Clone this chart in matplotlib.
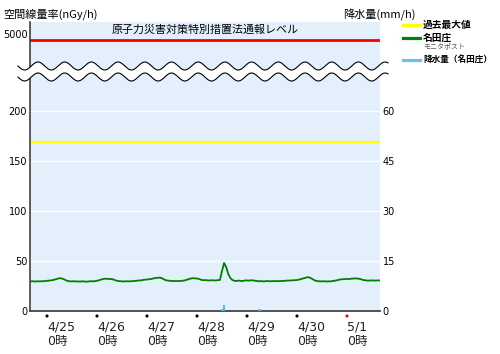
import numpy as np
import matplotlib
matplotlib.use('Agg')
import matplotlib.pyplot as plt
from matplotlib.patches import Polygon
from matplotlib.lines import Line2D

plt.rcParams['font.family'] = ['Noto Sans CJK JP', 'DejaVu Sans']

# ---------------- data ----------------
# hours since 4/25 0:00 (hourly values, 4/24 16時 .. 5/1 16時)
hours = np.arange(-8, 161)
dose = [
    29.6, 29.8, 29.5, 29.7, 29.6, 29.8, 29.7, 30.0,
    # 4/25
    30.2, 30.4, 30.6, 31.0, 31.6, 32.2, 32.8, 32.6, 31.8, 30.8, 30.0, 29.7,
    29.6, 29.8, 29.5, 29.6, 29.4, 29.7, 29.5, 29.3, 29.6, 29.8, 29.6, 29.9,
    # 4/26
    30.2, 30.8, 31.5, 32.0, 32.3, 32.2, 32.0, 31.9, 31.4, 30.6, 30.0, 29.8,
    29.7, 29.5, 29.8, 29.6, 29.7, 29.8, 30.0, 30.3, 30.5, 30.6, 31.0, 31.3,
    # 4/27
    31.5, 31.7, 32.0, 32.5, 33.0, 33.2, 33.4, 33.0, 31.8, 30.8, 30.4, 30.2,
    30.0, 30.0, 30.1, 29.9, 30.0, 30.2, 30.5, 31.2, 32.0, 32.5, 32.8, 32.7,
    # 4/28
    32.5, 32.0, 31.2, 30.8, 30.9, 30.7, 30.5, 30.8, 30.6, 30.5, 30.9, 31.0,
    40.0, 48.0, 44.0, 37.0, 33.0, 31.0, 30.2, 30.0, 30.4, 30.1, 30.0, 30.5,
    # 4/29
    30.6, 30.4, 30.8, 30.5, 30.2, 29.8, 29.7, 29.9, 29.6, 29.8, 30.0, 29.7,
    29.9, 29.8, 30.0, 29.8, 30.1, 29.9, 30.2, 30.3, 30.5, 30.4, 30.6, 30.8,
    # 4/30
    31.0, 31.4, 32.0, 32.6, 33.2, 33.8, 33.5, 32.5, 31.2, 30.2, 29.8, 29.7,
    29.6, 29.8, 29.5, 29.7, 29.6, 29.9, 30.2, 30.6, 31.2, 31.6, 31.8, 32.0,
    # 5/1
    32.1, 32.0, 32.3, 32.5, 32.6, 32.4, 32.2, 31.5, 30.9, 30.6, 30.4, 30.5,
    30.6, 30.4, 30.5, 30.6, 30.5,
]
rain_hours = [84, 85, 102]
rain = [0.6, 1.8, 0.5]
max_level = 169          # 過去最大値
notify_level = 5000      # 原子力災害対策特別措置法通報レベル
day_hours = [0, 24, 48, 72, 96, 120, 144]
day_labels = ['4/25\n0時', '4/26\n0時', '4/27\n0時', '4/28\n0時',
              '4/29\n0時', '4/30\n0時', '5/1\n0時']
dot_colors = ['black'] * 6 + ['red']
left_ticks = [0, 50, 100, 150, 200]
right_ticks = [0, 15, 30, 45, 60]

# ---------------- layout ----------------
W, H = 500, 354
fig = plt.figure(figsize=(W / 100, H / 100), dpi=100)


def rect(x0, y0, x1, y1):
    return [x0 / W, 1 - y1 / H, (x1 - x0) / W, (y1 - y0) / H]


bg = '#E3F0FB'
XL = (-8.16, 159.84)

ax = fig.add_axes(rect(30, 72, 380, 311))
axt = fig.add_axes(rect(30, 22, 380, 72))

# bottom (main) axes
ax.set_facecolor(bg)
ax.set_xlim(*XL)
ax.set_ylim(0, 239)
ax.set_yticks(left_ticks)
ax.yaxis.grid(True, color='white', lw=1.0)
ax.set_axisbelow(True)
ax.tick_params(axis='y', length=0, pad=2, labelsize=7)
ax.set_xticks(day_hours, day_labels)
ax.tick_params(axis='x', length=0, pad=6.5, labelsize=9)
for lab in ax.get_xticklabels():
    lab.set_horizontalalignment('left')
    lab.set_family(['DejaVu Sans', 'Noto Sans CJK JP'])
    lab.set_color('#222222')
for lab in ax.get_yticklabels():
    lab.set_family(['DejaVu Sans'])
for s in ['top', 'right']:
    ax.spines[s].set_visible(False)
ax.spines['left'].set_color('#333333')
ax.spines['left'].set_linewidth(1.1)
ax.spines['bottom'].set_color('#444444')
ax.spines['bottom'].set_linewidth(1.3)

ax.axhline(max_level, color='#FFFF00', lw=1.6, zorder=2)
ax.plot(hours, dose, color='#008000', lw=1.3, zorder=3)
ax.scatter(day_hours, [-5] * len(day_hours), c=dot_colors, s=5,
           clip_on=False, zorder=5, linewidths=0)

# rain on right axis
ax2 = ax.twinx()
ax2.set_ylim(0, 239 * 0.3)
ax2.set_xlim(*XL)
ax2.bar(rain_hours, rain, width=1.0, color='#5BB8F0', zorder=4)
ax2.set_yticks(right_ticks)
ax2.tick_params(axis='y', length=0, pad=2, labelsize=7)
for lab in ax2.get_yticklabels():
    lab.set_family(['DejaVu Sans'])
for s in ax2.spines.values():
    s.set_visible(False)

# top axes (notification level)
axt.set_facecolor(bg)
axt.set_xlim(*XL)
axt.set_ylim(4680, 5180)
axt.set_xticks([])
axt.set_yticks([])
for s in ['top', 'right', 'bottom']:
    axt.spines[s].set_visible(False)
axt.spines['left'].set_color('#333333')
axt.spines['left'].set_linewidth(1.1)
axt.axhline(notify_level, color='#FF0000', lw=2.0)
axt.text(-2 / 350, notify_level + 50, '5000', transform=axt.get_yaxis_transform(),
         ha='right', va='center', fontsize=7, family=['DejaVu Sans'])
axt.text(0.5, (72 - 30) / 50, '原子力災害対策特別措置法通報レベル',
         transform=axt.transAxes, ha='center', va='center', fontsize=7.9)

# wavy axis break band
xs = np.linspace(18, 388, 400)
P, A = 26.7, 4.0
yu = 66 - A * np.cos(2 * np.pi * (xs - 38) / P)
yl = 77 - A * np.cos(2 * np.pi * (xs - 38) / P)
fx = xs / W
poly = np.column_stack([np.concatenate([fx, fx[::-1]]),
                        np.concatenate([1 - yu / H, (1 - yl / H)[::-1]])])
fig.add_artist(Polygon(poly, closed=True, facecolor='white', edgecolor='none',
                       transform=fig.transFigure, zorder=10))
fig.add_artist(Line2D(fx, 1 - yu / H, color='black', lw=0.8,
                      transform=fig.transFigure, zorder=11))
fig.add_artist(Line2D(fx, 1 - yl / H, color='black', lw=0.8,
                      transform=fig.transFigure, zorder=11))

# axis titles
fig.text(3 / W, 1 - 14 / H, '空間線量率(nGy/h)', ha='left', va='center', fontsize=8)
fig.text(343 / W, 1 - 14 / H, '降水量(mm/h)', ha='left', va='center', fontsize=8)

# legend
leg = [('#FFFF00', 25, '過去最大値', 7, 'bold', '#000000'),
       ('#008000', 38, '名田庄', 7, 'bold', '#000000'),
       ('#66C0F0', 60, '降水量（名田庄）', 6.2, 'bold', '#000000')]
for col, y, txt, fs, fw, tc in leg:
    fig.add_artist(Line2D([403 / W, 420 / W], [1 - y / H, 1 - y / H], color=col,
                          lw=2.3, transform=fig.transFigure))
    fig.text(423 / W, 1 - y / H, txt, ha='left', va='center', fontsize=fs,
             fontweight=fw, color=tc)
fig.text(423 / W, 1 - 46 / H, 'モニタポスト', ha='left', va='center', fontsize=5,
         color='#555555')

fig.savefig('out.png', dpi=100)
